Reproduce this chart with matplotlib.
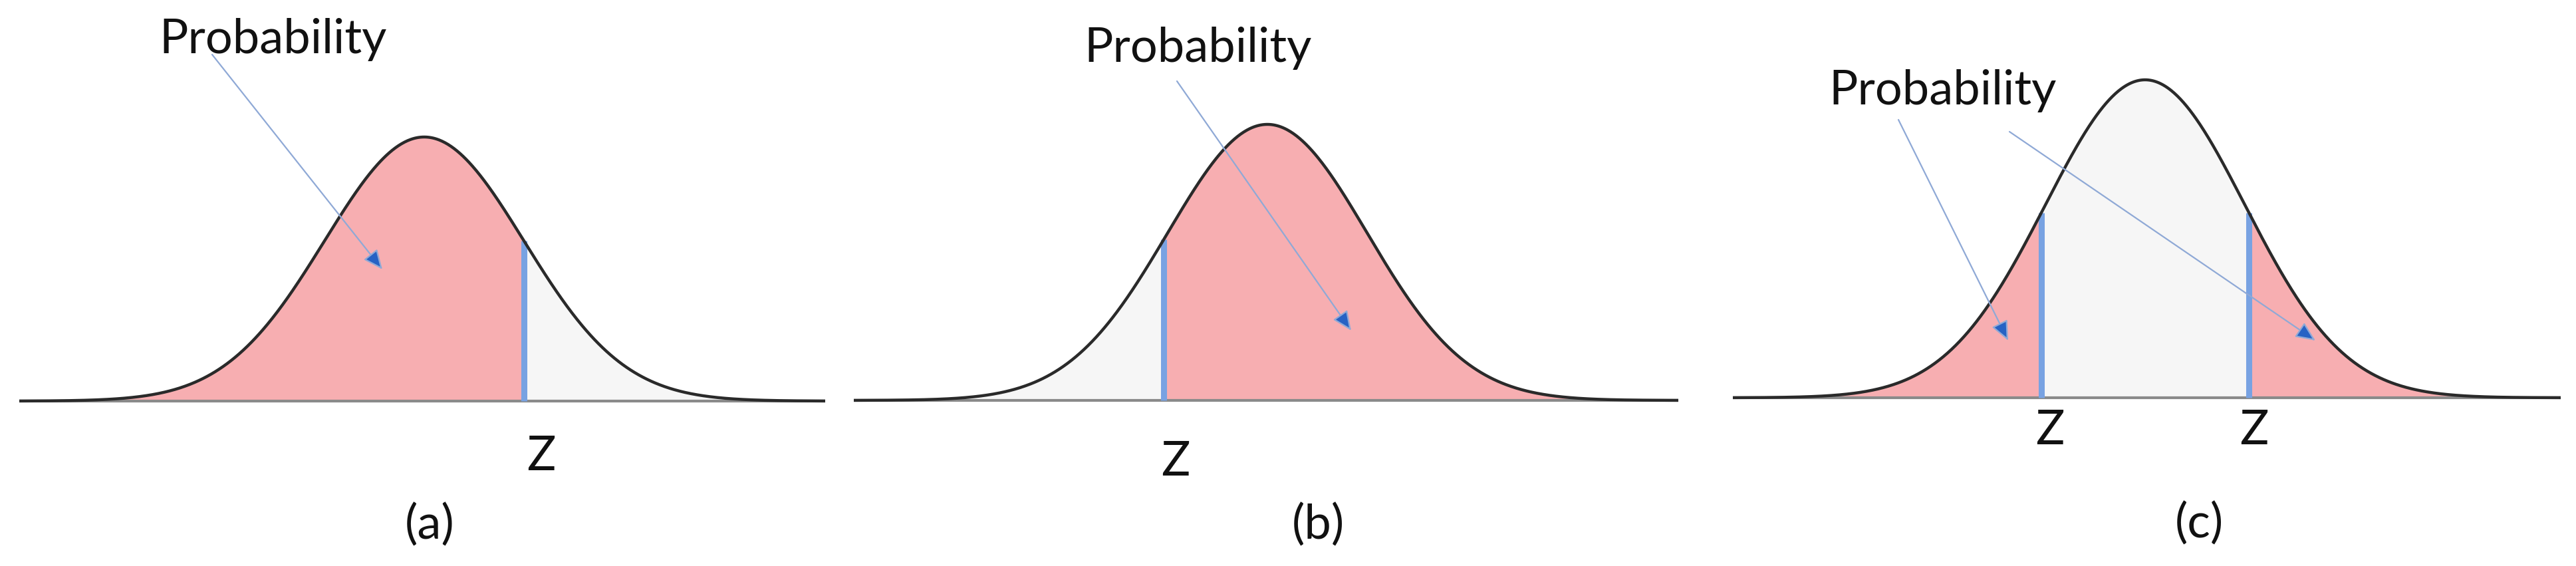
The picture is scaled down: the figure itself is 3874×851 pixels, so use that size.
import matplotlib.pyplot as plt
import numpy as np

plt.rcParams['font.family'] = ['Lato', 'DejaVu Sans']

# panel labels and the Z cut points (in standard deviations)
panel_labels = ['(a)', '(b)', '(c)']
z_cuts = [[1.0], [-1.04], [-1.04, 1.04]]
# which side is shaded: 'left', 'right' or 'tails'
shade_side = ['left', 'right', 'tails']

W, H = 3874, 851
# pixel layout of each panel: baseline start/end, centre, sigma, baseline row, peak row
x_start = [29, 1284, 2606]
x_end = [1241, 2524, 3851]
centre = [638, 1906, 3226]
sigma = [150, 150, 150]
base_row = [603, 602, 598]
peak_row = [206, 187, 120]

# text/arrow placement in pixels (text centre x, text baseline row)
prob_text = [(411, 80), (1802, 93), (2922, 157)]
arrows = [[((319, 82), (575, 405))],
          [((1770, 122), (2032, 497))],
          [((2855, 180), (3020, 512)), ((3022, 198), (3482, 512))]]
z_label_pos = [[(814, 707)], [(1768, 715)], [(3083, 668), (3390, 668)]]
panel_label_pos = [(646, 810), (1982, 810), (3307, 808)]

pink = '#F7AEB1'
grey_fill = '#F6F6F6'
blue = '#78A2E2'
text_col = '#111111'
fs = 52

fig = plt.figure(figsize=(W / 100, H / 100), dpi=100)

for i in range(3):
    ax = fig.add_axes([x_start[i] / W, 0, (x_end[i] - x_start[i]) / W, 1])
    s = sigma[i]
    span = base_row[i] - peak_row[i]
    px2x = lambda px: (px - centre[i]) / s
    px2y = lambda py: (base_row[i] - py) / span
    ax.set_xlim(px2x(x_start[i]), px2x(x_end[i]))
    ax.set_ylim(px2y(H), px2y(0))
    ax.axis('off')

    x = np.linspace(px2x(x_start[i]), px2x(x_end[i]), 800)
    y = np.exp(-x ** 2 / 2)
    ax.fill_between(x, 0, y, color=grey_fill, lw=0)
    zs = z_cuts[i]
    if shade_side[i] == 'left':
        mask = x <= zs[0]
    elif shade_side[i] == 'right':
        mask = x >= zs[0]
    else:
        mask = (x <= zs[0]) | (x >= zs[1])
    ax.fill_between(x, 0, y, where=mask, color=pink, lw=0, interpolate=True)
    ax.axhline(0, color='#8a8a8a', lw=3)
    for z in zs:
        ax.plot([z, z], [0, np.exp(-z ** 2 / 2)], color=blue, lw=6.5,
                solid_capstyle='butt')
    for (lx, ly) in z_label_pos[i]:
        ax.text(px2x(lx), px2y(ly), 'Z', ha='center', va='baseline',
                fontsize=fs, color=text_col)
    ax.plot(x, y, color='#2a2a2a', lw=3.2)

    tx, ty = prob_text[i]
    ax.text(px2x(tx), px2y(ty), 'Probability', ha='center', va='baseline',
            fontsize=fs, color=text_col)
    for (p0, p1) in arrows[i]:
        ax.annotate('', xy=(px2x(p1[0]), px2y(p1[1])),
                    xytext=(px2x(p0[0]), px2y(p0[1])),
                    arrowprops=dict(arrowstyle='-|>,head_length=0.9,head_width=0.4',
                                    mutation_scale=20, fc='#2762C4',
                                    ec='#8FA9D6', lw=1.6, shrinkA=0, shrinkB=0))
    lx, ly = panel_label_pos[i]
    ax.text(px2x(lx), px2y(ly), panel_labels[i], ha='center', va='baseline',
            fontsize=fs, color=text_col)

fig.savefig('out.png', dpi=100, facecolor='white')
